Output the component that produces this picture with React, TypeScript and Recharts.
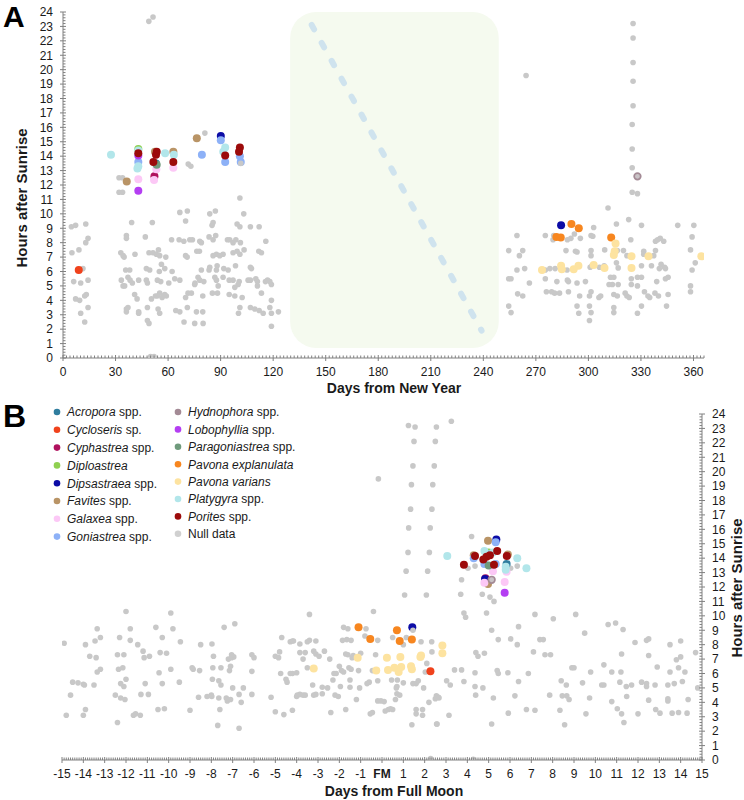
import React from 'react';
import { ScatterChart, Scatter, XAxis, YAxis, ReferenceArea, ReferenceLine } from 'recharts';

type P = [number, number];
const FONT = 'Liberation Sans, Arial, sans-serif';

// ---------- Panel A axes ----------
const xMajorA = [0, 30, 60, 90, 120, 150, 180, 210, 240, 270, 300, 330, 360];
const yMajor = [0, 1, 2, 3, 4, 5, 6, 7, 8, 9, 10, 11, 12, 13, 14, 15, 16, 17, 18, 19, 20, 21, 22, 23, 24];
// ---------- Panel B axes ----------
const xMajorB = [-15, -14, -13, -12, -11, -10, -9, -8, -7, -6, -5, -4, -3, -2, -1, 0, 1, 2, 3, 4, 5, 6, 7, 8, 9, 10, 11, 12, 13, 14, 15];

// ---------- Panel A data (day of year, hours after sunrise) ----------
const nullA: P[] = [
  [4.8, 9.1], [7.2, 9.2], [13, 9.3], [14.3, 8.3], [13, 8.0], [5.1, 7.3], [9.1, 7.5], [11.4, 6.2], [6.1, 5.3], [10.1, 5.2], [14.3, 5.4], [7.2, 4.1], [9.5, 4.0], [12.4, 4.3], [13.3, 4.4], [10.1, 3.1], [14.3, 3.5], [12.4, 2.5],
  [32, 11.5], [34, 11.5], [32, 12.5], [34, 12.5],
  [39.2, 9.4], [36.2, 8.5], [36.2, 8.3], [33, 7.3], [34.3, 7.1], [34.9, 7.0], [41.1, 7.2], [35.8, 6.1], [38.1, 6.1], [37.1, 5.6], [38.3, 5.4], [33.3, 5.4], [34.3, 5.0], [35.2, 5.0], [39.6, 5.2], [40.9, 4.4], [42.3, 4.1], [36.2, 3.4], [37.1, 3.5], [36.2, 3.2], [43.2, 3.2], [43.2, 3.1], [47, 8.4], [43.2, 5.4], [47.6, 6.2], [49.5, 6.1], [51, 9.4], [49.1, 7.3], [51.4, 7.3], [53.3, 7.2], [47.6, 5.4], [48.2, 5.2], [53.9, 5.4], [55.8, 5.3], [54.5, 7.5], [55.2, 7.1], [58.7, 7.0], [56.2, 6.5], [58.1, 6.2], [55, 6.0], [53.9, 4.3], [55.2, 4.5], [56.6, 4.2], [58.1, 4.4], [59, 4.3], [50.5, 4.1], [52.8, 4.3], [48.2, 3.5], [54.3, 3.4], [55.2, 3.1], [48.2, 2.6], [49.1, 2.4], [50, 0.1], [52, 0.1], [60.4, 5.2], [62.3, 6.0],
  [62, 8.2], [66.7, 10.1], [71, 10.2], [70, 9.5], [69, 8.1], [72.4, 8.2], [73.9, 8.2], [66.3, 8.2], [70, 7.1], [70.9, 7.0], [76.4, 7.4], [77.9, 7.4], [78.1, 8.1], [79, 8.0], [63.8, 5.5], [66.7, 5.4], [70, 4.2], [71.4, 4.5], [73.3, 4.5], [79, 6.1], [77.1, 5.6], [78.1, 5.4], [75.4, 5.2], [80.4, 5.3], [75.2, 5.1], [79.8, 4.3], [76.2, 3.2], [79.8, 3.2], [64.4, 3.3], [66.7, 3.2], [71, 3.5], [69.1, 2.5], [75.2, 2.4], [80, 2.4],
  [83.8, 10.0], [87, 10.2], [85.7, 9.4], [85.1, 9.2], [83.4, 8.4], [85.7, 8.2], [87.2, 8.5], [83.8, 6.3], [83.4, 6.1], [88, 6.4], [87.6, 6.1], [85.7, 7.1], [87.6, 7.2], [89.5, 7.1], [91.4, 7.2], [86.7, 5.6], [87.6, 5.4], [91.4, 5.6], [88.6, 5.0], [85.3, 4.5], [88.2, 4.5], [94.9, 4.4], [91.8, 6.2], [94.3, 6.1], [93.9, 8.2], [95.2, 8.2], [97.1, 8.0], [98.7, 8.2], [101.3, 8.0], [99.4, 9.3], [101, 9.1], [101, 11.1], [103.2, 10.0], [97.1, 7.3], [99.4, 7.4], [101, 7.2], [103.4, 7.5], [98.5, 6.4], [94.9, 5.4], [97.1, 5.4], [100.6, 5.3], [98.1, 4.9], [100, 5.1], [98.1, 4.3], [102.3, 4.2], [101, 3.5], [100.2, 3.1],
  [107, 9.1], [112, 9.1], [107, 6.3], [107.6, 6.2], [105.7, 5.4], [107, 5.4], [110.1, 5.5], [111, 5.3], [111.8, 7.4], [113.3, 7.3], [115.8, 8.1], [111, 5.0], [115.6, 5.3], [116.8, 5.4], [118.1, 5.3], [119, 5.1], [113.3, 4.5], [107, 3.5], [109.5, 3.4], [112, 3.3], [114.3, 3.1], [118.1, 3.5], [119, 4.0], [119, 3.1], [123, 3.2], [119, 2.2],
  [49, 23.35], [51.4, 23.65], [81, 15.6], [71.5, 13.45], [73, 13.3],
  [264.4, 19.6], [325.5, 23.2], [325.5, 22.2], [325.5, 20.5], [325.5, 19.2], [325.5, 17.5], [325, 16.2], [325, 14.5], [325, 13.2], [325, 11.5], [328, 11.4],
  [311.2, 10.4], [323, 9.6], [316, 9.3], [330.3, 9.2], [351, 9.2], [360.2, 9.2], [359.2, 8.4], [358.3, 7.5], [361, 6.6], [359.2, 6.1], [358.3, 5.0], [358.3, 4.6],
  [259.2, 8.5], [254.5, 7.45], [262.5, 7.45], [260.6, 7.1], [259.2, 6.1], [263.6, 6.2], [254.5, 5.5], [255.8, 5.5], [266.3, 5.2], [259.6, 4.45], [262.5, 4.3], [254.5, 3.6], [255.8, 3.15],
  [275.4, 8.5], [280.2, 8.5], [279.8, 8.2], [287.2, 7.45], [292, 8.6], [290, 8.3], [288, 8.2], [295.4, 8.3], [303, 9.05], [301.5, 8.5], [302.5, 8.45],
  [275.4, 6.1], [278, 6.2], [281, 6.2], [275.4, 5.5], [282, 5.3], [287.8, 6.1], [288.6, 5.3], [288, 5.4], [293.5, 5.2], [298.3, 5.3], [276, 4.6], [279, 4.6], [280.7, 4.5], [283.5, 4.5], [288.6, 4.6], [295, 4.3], [301.5, 4.6], [300.6, 4.3], [306, 4.2], [307, 4.3], [293.5, 3.6], [294.5, 3.1], [300.6, 3.6], [301.5, 3.15], [300.6, 2.6],
  [292.6, 7.4], [293.5, 7.35], [301.5, 7.45], [301.5, 7.1], [309.3, 7.5], [316.5, 7.45], [320, 7.45], [306.3, 6.3], [309, 6.4], [301, 6.3], [302, 6.4], [316, 6.6], [317, 6.25], [312.6, 5.6], [314.5, 5.6], [311.8, 5.1], [313.7, 5.1], [317, 5.1], [314.5, 4.4], [316.5, 4.3], [314.5, 3.5], [314.5, 3.15], [321, 4.5], [322, 4.3], [323.3, 4.2], [324.2, 8.2], [324.5, 5.1], [324.5, 5.5], [328, 5.6], [330.3, 5.6], [328, 5.0], [330.3, 6.4], [331.6, 7.4], [331.6, 7.2], [337.3, 7.1], [338.3, 7.45], [338.3, 8.1], [339.5, 8.2], [341, 8.3], [343, 8.1], [336, 6.4], [341.5, 6.5], [343.5, 6.3], [340.5, 6.2], [344, 6.2], [339, 5.3], [344, 5.5], [345.5, 5.6], [332, 4.6], [334, 4.3], [335, 4.2], [338, 4.5], [340, 4.3], [345.5, 4.4], [344.6, 3.6], [330.3, 3.6], [328, 3.1], [322, 7.1],
];
const nullOverA: P[] = [[101.5, 13.5]];

const acroporaA: P[] = [[53.1, 13.5]];
const cycloserisA: P[] = [[9, 6.1]];
const cyphastreaA: P[] = [[52.2, 12.6]];
const diploastreaA: P[] = [[43, 14.5]];
const dipsastraeaA: P[] = [[90.1, 15.4], [284.4, 9.2]];
const favitesA: P[] = [[36.4, 12.25], [76.4, 15.25], [63, 14.3], [52.5, 14.3]];
const galaxeaA: P[] = [[43, 12.4], [52, 12.35], [53.3, 13.1], [63, 13.2]];
const goniastreaA: P[] = [[43, 13.6], [90.1, 15.1], [79.3, 14.1], [92.6, 13.6], [101, 14.0], [101.5, 13.6]];
const hydnophoraA: P[] = [[328, 12.6]];
const lobophylliaA: P[] = [[43, 11.6], [43, 14.05]];
const paragoniastreaA: P[] = [[53.5, 13.4]];
const pExplanulataA: P[] = [[281.7, 8.4], [284.2, 8.35], [290.3, 9.3], [294.5, 9.0], [313, 8.35]];
const pVariansA: P[] = [[273.5, 6.1], [284.4, 6.4], [284.8, 6.15], [291.6, 6.15], [294.3, 6.4], [303, 6.45], [309.2, 6.25], [315.5, 7.95], [315, 7.4], [314.5, 7.15], [324.6, 7.05], [324.6, 6.25], [334.3, 7.05], [364.5, 7.05]];
const platygyraA: P[] = [[27.4, 14.1], [43, 14.4], [43, 13.3], [42.5, 13.15], [58.3, 14.2], [63.3, 14.1], [92.6, 14.6], [91.5, 14.3]];
const poritesA: P[] = [[43, 14.2], [51.6, 13.6], [53.1, 14.1], [53.5, 14.3], [63, 13.6], [92.6, 14.05], [101, 14.6], [100.5, 14.3]];

// ---------- Panel B data (days from full moon, hours after sunrise) ----------
const nullB: P[] = [
  [-14.9, 8.1], [-14.8, 3.1], [-14.6, 4.5], [-14.5, 5.4], [-14.25, 5.35], [-14.0, 5.25], [-13.95, 5.2], [-13.9, 8.0], [-14.0, 3.1], [-13.9, 3.5], [-13.7, 7.2], [-13.5, 5.2], [-13.45, 8.25], [-13.35, 9.1], [-13.2, 8.5], [-13.4, 7.1], [-13.35, 6.1], [-13.2, 6.3],
  [-12.5, 4.5], [-12.4, 7.3], [-12.4, 2.6], [-12.35, 6.3], [-12.15, 6.4], [-12.3, 8.5], [-12.25, 5.3], [-12.1, 5.1], [-12.25, 4.3], [-12.1, 7.3], [-12.0, 10.3], [-12.05, 4.2], [-12.0, 5.6], [-11.8, 9.1], [-11.8, 8.3], [-11.65, 3.1], [-11.55, 3.2], [-11.45, 8.0], [-11.33, 3.1], [-11.3, 4.55], [-11.2, 7.55], [-11.15, 7.1], [-11.1, 5.3], [-10.95, 4.55], [-10.9, 7.2], [-10.6, 9.2], [-10.5, 3.5], [-10.45, 6.05], [-10.4, 7.45], [-10.3, 8.5], [-10.3, 5.3], [-10.2, 3.55], [-10.1, 7.4], [-9.9, 6.3], [-9.9, 10.2], [-9.8, 9.1], [-9.5, 5.4], [-9.45, 8.2],
  [-9.0, 3.45], [-8.9, 6.4], [-8.85, 6.3], [-8.6, 4.35], [-8.55, 6.2], [-8.5, 8.0], [-8.2, 4.4], [-8.0, 4.5], [-7.98, 4.4], [-7.97, 8.05], [-7.9, 7.2], [-7.95, 5.6], [-7.93, 6.4], [-7.65, 5.5], [-7.6, 3.5], [-7.7, 2.4], [-7.65, 4.3], [-7.55, 5.2], [-7.55, 6.4], [-7.4, 9.2], [-7.3, 4.3], [-7.25, 4.1], [-7.1, 4.2], [-7.2, 7.0], [-7.15, 6.2], [-7.1, 6.5], [-7.05, 7.1], [-6.95, 7.15], [-7.05, 7.3], [-7.0, 5.0], [-6.9, 9.45], [-6.7, 4.55], [-6.7, 2.2], [-6.6, 4.0], [-6.5, 5.0], [-6.1, 4.55], [-6.1, 7.3], [-6.0, 7.1], [-6.1, 6.15],
  [-5.2, 4.35], [-5.0, 7.2], [-4.85, 7.1], [-4.8, 7.5], [-5.0, 3.35], [-4.75, 6.0], [-4.7, 8.5], [-4.6, 3.15], [-4.5, 5.6], [-4.45, 5.4], [-4.3, 8.2], [-4.2, 8.25], [-4.15, 8.25], [-4.3, 6.0], [-4.2, 6.0], [-4.0, 6.05], [-4.2, 3.45], [-4.0, 4.4], [-3.97, 4.5], [-3.85, 4.55], [-3.85, 7.45], [-3.85, 8.05], [-3.7, 7.0], [-3.6, 7.45], [-3.7, 4.5], [-3.6, 4.5], [-3.5, 8.2], [-3.4, 8.3], [-3.5, 6.4], [-3.4, 10.1], [-3.25, 5.2], [-3.2, 4.5], [-3.1, 4.55], [-3.2, 7.55], [-3.1, 7.35], [-2.95, 7.2], [-3.1, 8.25], [-2.8, 5.05], [-2.8, 4.6], [-2.7, 7.55], [-2.55, 5.0], [-2.45, 7.0], [-2.4, 3.3], [-2.3, 5.55], [-2.25, 6.0], [-2.15, 6.0], [-2.2, 4.5], [-2.05, 4.4], [-2.0, 6.5], [-1.95, 5.1], [-1.85, 8.3], [-1.65, 8.35], [-1.45, 8.3], [-1.9, 6.2], [-1.8, 6.1], [-1.8, 9.2], [-1.7, 7.35], [-1.6, 7.3], [-1.7, 3.5], [-1.6, 9.1], [-1.55, 6.4], [-1.45, 6.3], [-1.5, 5.05], [-1.5, 5.55], [-1.4, 7.1], [-1.35, 7.25], [-1.2, 4.2], [-1.1, 6.2], [-1.05, 5.0], [-1.0, 7.4], [-0.8, 8.6], [-0.75, 9.1], [-0.7, 5.3], [-0.6, 5.4], [-0.55, 3.2], [-0.45, 3.3], [-0.4, 10.3], [-0.45, 6.2], [-0.3, 7.3], [-0.2, 4.1], [-0.05, 4.1], [0.1, 4.05], [-0.2, 8.3], [-0.2, 5.5], [0.15, 3.4], [0.3, 3.5], [0.5, 8.5], [0.67, 5.0], [0.7, 4.6],
  [1.13, 13.1], [2.14, 13.1], [1.06, 11.45], [2.08, 11.45], [1.0, 8.0], [1.14, 8.5], [1.83, 8.2], [2.33, 8.2], [2.34, 7.5], [2.03, 6.1], [2.1, 6.7], [1.45, 5.3], [1.6, 5.3], [1.7, 5.5], [1.95, 5.0], [1.0, 5.35], [0.7, 5.1], [0.45, 5.55], [0.72, 5.55], [0.83, 4.5], [0.63, 4.2], [0.4, 3.55], [0.5, 3.5], [1.6, 3.5], [1.6, 3.2], [1.9, 3.5], [1.9, 3.1], [2.2, 4.0], [2.5, 4.25], [2.65, 4.35], [1.4, 2.45], [2.58, 2.5], [2.28, 0.1], [4.28, 0.05],
  [1.24, 23.2], [1.55, 23.1], [2.55, 23.1], [3.25, 23.5], [1.5, 22.1], [2.5, 22.1], [1.45, 20.4], [2.45, 20.4], [1.38, 19.1], [2.38, 19.1], [-0.17, 19.5], [1.34, 17.4], [2.34, 17.4], [1.25, 16.1], [2.26, 16.1], [1.22, 14.4], [2.22, 14.4], [4.2, 15.5],
  [3.73, 12.5], [3.69, 11.5], [4.7, 11.5], [5.06, 11.3], [5.25, 11.0], [4.9, 10.2], [4.36, 13.45], [4.03, 13.3], [6.03, 13.3], [6.34, 13.45],
  [7.17, 10.1], [3.84, 10.2], [3.92, 9.9], [8.03, 9.8], [9.08, 10.1], [10.6, 9.4], [10.95, 9.5], [5.14, 9.0], [6.4, 9.25], [5.45, 8.35], [6.03, 8.4], [7.4, 8.35], [7.56, 8.35], [9.5, 8.8], [11.3, 9.05], [11.86, 8.15], [12.4, 8.3], [12.5, 8.4], [13.5, 8.0], [14.0, 8.25], [4.4, 7.45], [4.5, 7.2], [4.8, 7.4], [6.34, 8.0], [7.1, 7.5], [7.64, 7.3], [7.9, 7.3], [8.9, 6.4], [9.0, 6.4], [9.78, 6.1], [10.4, 6.6], [10.77, 6.1], [11.2, 6.1], [11.23, 7.35], [12.5, 7.25], [12.9, 6.45], [13.5, 6.1], [13.9, 6.4], [13.8, 6.95], [14.0, 7.15], [14.2, 6.1], [14.7, 7.45],
  [5.4, 6.2], [5.45, 6.0], [5.9, 6.05], [3.4, 6.25], [3.73, 6.25], [4.36, 6.05], [3.2, 5.2], [3.03, 5.5], [3.84, 5.45], [4.36, 5.1], [4.73, 5.0], [5.22, 4.3], [6.4, 5.45], [6.23, 4.45], [4.39, 4.5], [5.92, 3.25], [6.77, 3.5], [7.17, 3.45], [3.14, 3.1], [2.55, 4.45], [2.67, 4.3], [5.14, 2.5], [2.56, 2.5], [6.86, 6.0], [8.4, 5.5], [8.64, 5.2], [8.34, 3.45], [8.56, 2.45], [8.45, 4.45], [8.66, 4.45], [8.77, 4.2], [7.86, 4.5], [9.4, 5.35], [9.56, 3.2], [9.73, 4.3], [10.3, 5.2], [10.4, 5.2], [10.77, 4.05], [11.03, 3.55], [11.15, 5.4], [11.23, 3.2], [11.34, 2.6], [11.45, 5.1], [11.7, 5.2], [11.47, 4.4], [12.0, 3.2], [12.17, 5.4], [12.4, 5.1], [12.4, 5.3], [12.5, 4.15], [12.8, 5.2], [12.83, 3.5], [13.03, 3.25], [13.4, 4.25], [13.4, 4.1], [13.4, 5.2], [13.6, 3.25], [13.7, 5.3], [13.9, 3.3], [14.08, 5.45], [14.3, 3.25], [14.35, 4.2], [14.8, 5.0],
];
const nullOverB: P[] = [[1.45, 9.0]];

const acroporaB: P[] = [[5.84, 13.6]];
const cycloserisB: P[] = [[2.27, 6.15]];
const cyphastreaB: P[] = [[4.85, 12.6]];
const diploastreaB: P[] = [[5.0, 14.4]];
const dipsastraeaB: P[] = [[5.36, 15.3], [4.83, 12.55], [1.42, 9.2]];
const favitesB: P[] = [[4.97, 15.2], [4.3, 14.2], [5.9, 14.25], [4.97, 12.2]];
const galaxeaB: P[] = [[5.2, 13.1], [5.84, 13.05], [4.8, 12.3], [5.75, 12.35]];
const goniastreaB: P[] = [[4.3, 14.0], [5.33, 15.1], [4.8, 13.6], [5.33, 13.6], [4.9, 14.3]];
const hydnophoraB: P[] = [[5.14, 12.5]];
const lobophylliaB: P[] = [[5.75, 11.6]];
const paragoniastreaB: P[] = [[5.0, 13.5]];
const pExplanulataB: P[] = [[-1.1, 9.2], [-0.55, 8.4], [0.7, 9.0], [0.83, 8.25], [1.4, 8.35]];
const pVariansB: P[] = [[-3.2, 6.35], [-1.14, 7.1], [-0.27, 6.2], [0.23, 7.1], [0.28, 6.25], [0.58, 6.4], [0.78, 6.1], [0.86, 7.15], [0.9, 6.45], [1.36, 6.5], [1.4, 6.3], [1.8, 7.15], [1.83, 7.25], [2.83, 7.95], [2.83, 7.4]];
const platygyraB: P[] = [[3.06, 14.15], [4.8, 14.5], [5.8, 13.2], [5.8, 13.4], [6.34, 14.0], [6.77, 13.3], [5.2, 14.4]];
const poritesB: P[] = [[3.84, 13.55], [4.36, 14.15], [5.4, 14.5], [5.06, 14.2], [4.9, 14.1], [4.75, 13.9], [5.25, 13.55], [5.85, 14.15]];

// closed season band and reference diagonal in panel A
const bandA = { x1: 129.7, x2: 248.8, y1: 0.7, y2: 24 };
const diagA: [{ x: number; y: number }, { x: number; y: number }] = [{ x: 142, y: 23.1 }, { x: 239, y: 1.9 }];

interface Sp { name: string; suffix: string; color: string; a: P[]; b: P[]; ring?: boolean }
const species: Sp[] = [
  { name: 'Acropora', suffix: ' spp.', color: '#2f7d9e', a: acroporaA, b: acroporaB },
  { name: 'Cycloseris', suffix: ' sp.', color: '#f0421c', a: cycloserisA, b: cycloserisB },
  { name: 'Cyphastrea', suffix: ' spp.', color: '#b0125e', a: cyphastreaA, b: cyphastreaB },
  { name: 'Diploastrea', suffix: '', color: '#8fd050', a: diploastreaA, b: diploastreaB },
  { name: 'Dipsastraea', suffix: ' spp.', color: '#0c0ca6', a: dipsastraeaA, b: dipsastraeaB },
  { name: 'Favites', suffix: ' spp.', color: '#b99466', a: favitesA, b: favitesB },
  { name: 'Galaxea', suffix: ' spp.', color: '#fcc8f6', a: galaxeaA, b: galaxeaB },
  { name: 'Goniastrea', suffix: ' spp.', color: '#8db1f7', a: goniastreaA, b: goniastreaB },
  { name: 'Hydnophora', suffix: ' spp.', color: '#a38a95', a: hydnophoraA, b: hydnophoraB, ring: true },
  { name: 'Lobophyllia', suffix: ' spp.', color: '#b43ef2', a: lobophylliaA, b: lobophylliaB },
  { name: 'Paragoniastrea', suffix: ' spp.', color: '#6f9a7c', a: paragoniastreaA, b: paragoniastreaB },
  { name: 'Pavona explanulata', suffix: '', color: '#f7861f', a: pExplanulataA, b: pExplanulataB },
  { name: 'Pavona varians', suffix: '', color: '#fde3a0', a: pVariansA, b: pVariansB },
  { name: 'Platygyra', suffix: ' spp.', color: '#b2e6ea', a: platygyraA, b: platygyraB },
  { name: 'Porites', suffix: ' spp.', color: '#9c0b0b', a: poritesA, b: poritesB },
];
const NULL_COLOR = '#c8c8c8';

const toPts = (a: P[]) => a.map(([x, y]) => ({ x, y }));
const r3 = (v: number) => Math.round(v * 1000) / 1000;
function buildTicks(min: number, max: number, step: number) {
  const out: number[] = [];
  const n = Math.round((max - min) / step);
  for (let i = 0; i <= n; i++) out.push(r3(min + i * step));
  return out;
}
const xTicksA = buildTicks(0, 366, 2);
const xTicksB = buildTicks(-15, 15, 0.1);
const yTicks = buildTicks(0, 24, 0.2);

const AXIS = '#808080';
const TXT = '#1a1a1a';

const dot = (color: string, r: number, ring?: boolean) => (p: any) => {
  if (p.cx == null || p.cy == null) return <g />;
  if (ring) return <circle cx={p.cx} cy={p.cy} r={r - 0.7} fill="#c9c3c6" stroke={color} strokeWidth={1.7} />;
  return <circle cx={p.cx} cy={p.cy} r={r} fill={color} />;
};

const makeXTick = (majors: number[], fm: boolean, dy: number) => (p: any) => {
  const v = r3(p.payload.value);
  const isMajor = majors.some((m) => Math.abs(m - v) < 1e-6);
  const label = fm && v === 0 ? 'FM' : String(v);
  return (
    <g>
      <line x1={p.x} x2={p.x} y1={isMajor ? p.y - 3 : p.y - 2.5} y2={isMajor ? p.y + 3 : p.y} stroke={AXIS} strokeWidth={1} />
      {isMajor && (
        <text x={p.x} y={p.y + dy} textAnchor="middle" fontSize={12} fontFamily={FONT} fill={TXT} fontWeight={fm && v === 0 ? 700 : 400}>
          {label}
        </text>
      )}
    </g>
  );
};

const makeYTick = (side: 'left' | 'right') => (p: any) => {
  const v = r3(p.payload.value);
  const isMajor = yMajor.some((m) => Math.abs(m - v) < 1e-6);
  const inward = side === 'left' ? 1 : -1;
  return (
    <g>
      <line
        y1={p.y}
        y2={p.y}
        x1={isMajor ? p.x - 3 : p.x}
        x2={isMajor ? p.x + 3 : p.x + inward * 2.5}
        stroke={AXIS}
        strokeWidth={1}
      />
      {isMajor && (
        <text
          x={side === 'left' ? p.x - 10 : p.x + 10}
          y={p.y + 4.3}
          textAnchor={side === 'left' ? 'end' : 'start'}
          fontSize={12}
          fontFamily={FONT}
          fill={TXT}
        >
          {String(v)}
        </text>
      )}
    </g>
  );
};

const roundedBand = (p: any) => (
  <rect x={p.x} y={p.y} width={p.width} height={p.height} rx={26} ry={26} fill="#f5faef" fillOpacity={1} stroke="none" />
);

const R_NULL = 2.8;
const R_SP = 4.0;

function PanelA() {
  return (
    <ScatterChart width={744} height={395} margin={{ top: 12, right: 40, bottom: 7, left: 0 }}>
      <XAxis
        type="number"
        dataKey="x"
        domain={[0, 366]}
        ticks={xTicksA}
        interval={0}
        tickSize={0}
        tickMargin={0}
        tickLine={false}
        tick={makeXTick(xMajorA, false, 18)}
        axisLine={{ stroke: AXIS }}
        height={30}
        allowDataOverflow
      />
      <YAxis
        type="number"
        dataKey="y"
        domain={[0, 24]}
        ticks={yTicks}
        interval={0}
        tickSize={0}
        tickMargin={0}
        tickLine={false}
        tick={makeYTick('left')}
        axisLine={{ stroke: AXIS }}
        width={63}
        allowDataOverflow
      />
      <ReferenceArea x1={bandA.x1} x2={bandA.x2} y1={bandA.y1} y2={bandA.y2} shape={roundedBand} ifOverflow="visible" />
      <ReferenceLine
        segment={diagA}
        stroke="#cfe3ee"
        strokeWidth={6}
        strokeDasharray="5 15.5"
        strokeLinecap="round"
        ifOverflow="visible"
      />
      <Scatter data={toPts(nullA)} shape={dot(NULL_COLOR, R_NULL)} isAnimationActive={false} />
      {species.map((s) => (
        <Scatter key={s.name} data={toPts(s.a)} shape={dot(s.color, R_SP, s.ring)} isAnimationActive={false} />
      ))}
      <Scatter data={toPts(nullOverA)} shape={dot(NULL_COLOR, R_NULL)} isAnimationActive={false} />
    </ScatterChart>
  );
}

function PanelB() {
  return (
    <ScatterChart width={744} height={405} margin={{ top: 19, right: 0, bottom: 10, left: 62 }}>
      <XAxis
        type="number"
        dataKey="x"
        domain={[-15, 15]}
        ticks={xTicksB}
        interval={0}
        tickSize={0}
        tickMargin={0}
        tickLine={false}
        tick={makeXTick(xMajorB, true, 17.5)}
        axisLine={{ stroke: AXIS }}
        height={30}
        allowDataOverflow
      />
      <YAxis
        type="number"
        dataKey="y"
        orientation="right"
        domain={[0, 24]}
        ticks={yTicks}
        interval={0}
        tickSize={0}
        tickMargin={0}
        tickLine={false}
        tick={makeYTick('right')}
        axisLine={{ stroke: AXIS }}
        width={42}
        allowDataOverflow
      />
      <Scatter data={toPts(nullB)} shape={dot(NULL_COLOR, R_NULL)} isAnimationActive={false} />
      {species.map((s) => (
        <Scatter key={s.name} data={toPts(s.b)} shape={dot(s.color, R_SP, s.ring)} isAnimationActive={false} />
      ))}
      <Scatter data={toPts(nullOverB)} shape={dot(NULL_COLOR, R_NULL)} isAnimationActive={false} />
    </ScatterChart>
  );
}

function LegendB() {
  const entries = [...species.map((s) => ({ name: s.name, suffix: s.suffix, color: s.color, italic: true })), { name: 'Null data', suffix: '', color: '#d0d0d0', italic: false }];
  return (
    <g>
      {entries.map((e, i) => {
        const col = i < 8 ? 0 : 1;
        const row = col === 0 ? i : i - 8;
        const cx = col === 0 ? 57 : 178;
        const cy = col === 0 ? 412 + row * 17.8 : 412 + row * 17.4;
        return (
          <g key={e.name}>
            <circle cx={cx} cy={cy} r={3.3} fill={e.color} />
            <text x={cx + 10} y={cy + 4.3} fontSize={12} fontFamily={FONT} fill={TXT}>
              <tspan fontStyle={e.italic ? 'italic' : 'normal'}>{e.name}</tspan>
              {e.suffix && <tspan>{e.suffix}</tspan>}
            </text>
          </g>
        );
      })}
    </g>
  );
}

export default function App() {
  return (
    <div style={{ position: 'absolute', left: 0, top: 0, width: 744, height: 800, background: '#fff', overflow: 'hidden' }}>
      <div style={{ position: 'absolute', left: 0, top: 0 }}>
        <PanelA />
      </div>
      <div style={{ position: 'absolute', left: 0, top: 395 }}>
        <PanelB />
      </div>
      <svg width={744} height={800} style={{ position: 'absolute', left: 0, top: 0, pointerEvents: 'none' }}>
        <text x={3} y={27} fontSize={30} fontWeight={700} fontFamily={FONT} fill="#000">A</text>
        <text x={3} y={427} fontSize={32} fontWeight={700} fontFamily={FONT} fill="#000">B</text>
        <text x={394} y={393} textAnchor="middle" fontSize={14} fontWeight={700} fontFamily={FONT} fill={TXT}>Days from New Year</text>
        <text x={394} y={796} textAnchor="middle" fontSize={14} fontWeight={700} fontFamily={FONT} fill={TXT}>Days from Full Moon</text>
        <text transform="translate(27,198) rotate(-90)" textAnchor="middle" fontSize={15} fontWeight={700} fontFamily={FONT} fill={TXT}>Hours after Sunrise</text>
        <text transform="translate(742,588) rotate(-90)" textAnchor="middle" fontSize={15} fontWeight={700} fontFamily={FONT} fill={TXT}>Hours after Sunrise</text>
        <LegendB />
      </svg>
    </div>
  );
}
